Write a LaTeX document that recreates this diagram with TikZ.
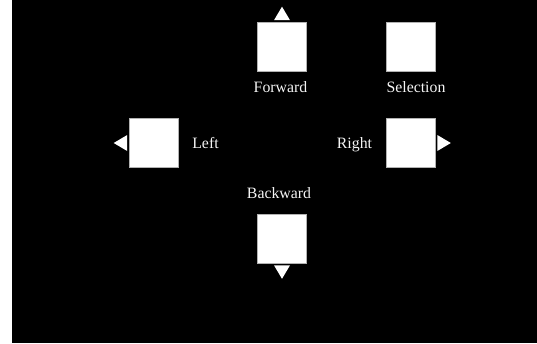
\documentclass[tikz,border=0pt]{standalone}
\usepackage{fontspec}
\setmainfont{Liberation Serif}
\usetikzlibrary{calc}
\begin{document}
\begin{tikzpicture}[x=1pt,y=-1pt,
  keybox/.style={draw=gray!60,line width=0.6pt,fill=white,minimum width=49pt,minimum height=49pt,inner sep=0pt},
  keylabel/.style={text=gray!8,font=\fontsize{15.8}{18}\selectfont,inner sep=0pt,anchor=base},
  tri/.style={fill=white,draw=none}]
\useasboundingbox (0,0) rectangle (537,343);
\fill[white] (0,0) rectangle (537,343);
\fill[black] (12,0) rectangle (537,343);
% boxes
\node[keybox] (fwd) at (282,46.5) {};
\node[keybox] (sel) at (411,46.5) {};
\node[keybox] (lft) at (153.5,143) {};
\node[keybox] (rgt) at (411,143) {};
\node[keybox] (bwd) at (282,239) {};
% labels
\node[keylabel] (fwdl) at (280.5,92.5) {Forward};
\node[keylabel] (sell) at (416,92.5) {Selection};
\node[keylabel] (lftl) at (205.5,148) {Left};
\node[keylabel] (rgtl) at (354.5,148) {Right};
\node[keylabel] (bwdl) at (279,198) {Backward};
% arrow triangles
\fill[tri] ($(fwd.north)+(-8,-1.5)$) -- ($(fwd.north)+(8,-1.5)$) -- ($(fwd.north)+(0,-15)$) -- cycle;
\fill[tri] ($(bwd.south)+(-8,1.5)$) -- ($(bwd.south)+(8,1.5)$) -- ($(bwd.south)+(0,15)$) -- cycle;
\fill[tri] ($(lft.west)+(-1.5,-8)$) -- ($(lft.west)+(-1.5,8)$) -- ($(lft.west)+(-15,0)$) -- cycle;
\fill[tri] ($(rgt.east)+(1.5,-8)$) -- ($(rgt.east)+(1.5,8)$) -- ($(rgt.east)+(15,0)$) -- cycle;
\end{tikzpicture}
\end{document}
